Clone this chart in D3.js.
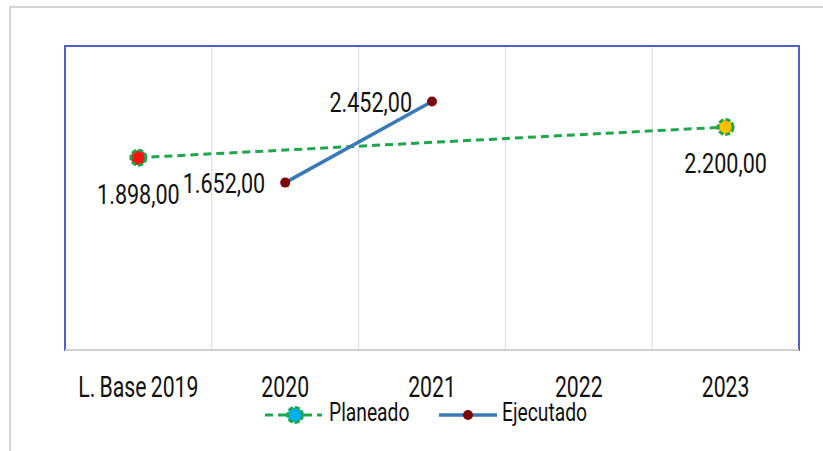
<!DOCTYPE html>
<html>
<head>
<meta charset="utf-8">
<script src="https://cdn.jsdelivr.net/npm/d3@7"></script>
<style>
  html, body { margin: 0; padding: 0; background: #fff; }
  svg { display: block; font-family: Roboto, "Liberation Sans", sans-serif; }
</style>
</head>
<body>
<div id="chart"></div>
<script>
// data
const categories = ["L. Base 2019", "2020", "2021", "2022", "2023"];
const planeado = [1898, null, null, null, 2200];
const ejecutado = [null, 1652, 2452, null, null];
const seriesNames = ["Planeado", "Ejecutado"];
const yDomain = [0, 3000];

const width = 823, height = 451;
const sx = 0.77; // squeeze text to look condensed

const svg = d3.select("#chart").append("svg")
  .attr("width", width)
  .attr("height", height);

// outer frame
svg.append("path")
  .attr("d", "M10,451 L10,7 L823,7")
  .attr("fill", "none")
  .attr("stroke", "#c6c6c6")
  .attr("stroke-width", 1.5);

const x = d3.scaleBand().domain(categories).range([65, 799]);
const y = d3.scaleLinear().domain(yDomain).range([350, 46]);

const fmt = d3.formatLocale({ decimal: ",", thousands: ".", grouping: [3], currency: ["", ""] }).format(",.2f");

// gridlines between categories
svg.append("g").selectAll("line")
  .data(categories.slice(1))
  .join("line")
  .attr("x1", d => x(d)).attr("x2", d => x(d))
  .attr("y1", y(yDomain[1])).attr("y2", y(0))
  .attr("stroke", "#d9d9d9").attr("stroke-width", 1);

// plot area border
svg.append("rect")
  .attr("x", 65).attr("y", y(yDomain[1]))
  .attr("width", 734).attr("height", y(0) - y(yDomain[1]))
  .attr("fill", "none")
  .attr("stroke", "#5160c4")
  .attr("stroke-width", 2);

// x axis line
svg.append("line")
  .attr("x1", 65).attr("x2", 799)
  .attr("y1", y(0)).attr("y2", y(0))
  .attr("stroke", "#d0d0d0").attr("stroke-width", 2);

// category labels
svg.append("g").selectAll("g")
  .data(categories)
  .join("g")
  .attr("transform", d => `translate(${x(d) + x.bandwidth() / 2},397) scale(0.72,1)`)
  .append("text")
  .attr("text-anchor", "middle")
  .attr("font-size", 29.5)
  .attr("fill", "#111")
  .attr("word-spacing", -1.5)
  .text(d => d);

const cx = i => x(categories[i]) + x.bandwidth() / 2;

const line = d3.line().x(d => cx(d.i)).y(d => y(d.v));

const pData = planeado.map((v, i) => ({ v, i })).filter(d => d.v != null);
const eData = ejecutado.map((v, i) => ({ v, i })).filter(d => d.v != null);

// Planeado
svg.append("path")
  .datum(pData)
  .attr("d", line)
  .attr("fill", "none")
  .attr("stroke", "#1fa54c")
  .attr("stroke-width", 3)
  .attr("stroke-dasharray", "8,5");

const pFill = ["#ff1010", null, null, null, "#ffc000"];
svg.append("g").selectAll("circle")
  .data(pData)
  .join("circle")
  .attr("cx", d => cx(d.i)).attr("cy", d => y(d.v))
  .attr("r", 7.5)
  .attr("fill", d => pFill[d.i])
  .attr("stroke", "#1fa54c")
  .attr("stroke-width", 3)
  .attr("stroke-dasharray", "5,2");

// Ejecutado
svg.append("path")
  .datum(eData)
  .attr("d", line)
  .attr("fill", "none")
  .attr("stroke", "#3a79b7")
  .attr("stroke-width", 3.5);

svg.append("g").selectAll("circle")
  .data(eData)
  .join("circle")
  .attr("cx", d => cx(d.i)).attr("cy", d => y(d.v))
  .attr("r", 5)
  .attr("fill", "#7a0a0a");

// data labels
svg.append("g").selectAll("g")
  .data(pData)
  .join("g")
  .attr("transform", d => `translate(${cx(d.i)},${y(d.v) + 46}) scale(${sx},1)`)
  .append("text")
  .attr("text-anchor", "middle")
  .attr("font-size", 28)
  .attr("fill", "#111")
  .text(d => fmt(d.v));

svg.append("g").selectAll("g")
  .data(eData)
  .join("g")
  .attr("transform", d => `translate(${cx(d.i) - 20},${y(d.v) + 10}) scale(${sx},1)`)
  .append("text")
  .attr("text-anchor", "end")
  .attr("font-size", 28)
  .attr("fill", "#111")
  .text(d => fmt(d.v));

// legend
const leg = svg.append("g");
leg.append("line")
  .attr("x1", 265).attr("x2", 322).attr("y1", 415).attr("y2", 415)
  .attr("stroke", "#1fa54c").attr("stroke-width", 3).attr("stroke-dasharray", "8,5");
leg.append("circle")
  .attr("cx", 295).attr("cy", 415).attr("r", 7.5)
  .attr("fill", "#00b0f0").attr("stroke", "#1fa54c")
  .attr("stroke-width", 3).attr("stroke-dasharray", "5,2");
leg.append("g")
  .attr("transform", `translate(329,421) scale(${sx},1)`)
  .append("text").attr("font-size", 25).attr("fill", "#111").text(seriesNames[0]);

leg.append("line")
  .attr("x1", 439).attr("x2", 497).attr("y1", 415).attr("y2", 415)
  .attr("stroke", "#3a79b7").attr("stroke-width", 3.5);
leg.append("circle")
  .attr("cx", 468).attr("cy", 415).attr("r", 5)
  .attr("fill", "#7a0a0a");
leg.append("g")
  .attr("transform", `translate(502,421) scale(${sx},1)`)
  .append("text").attr("font-size", 25).attr("fill", "#111").text(seriesNames[1]);
</script>
</body>
</html>
